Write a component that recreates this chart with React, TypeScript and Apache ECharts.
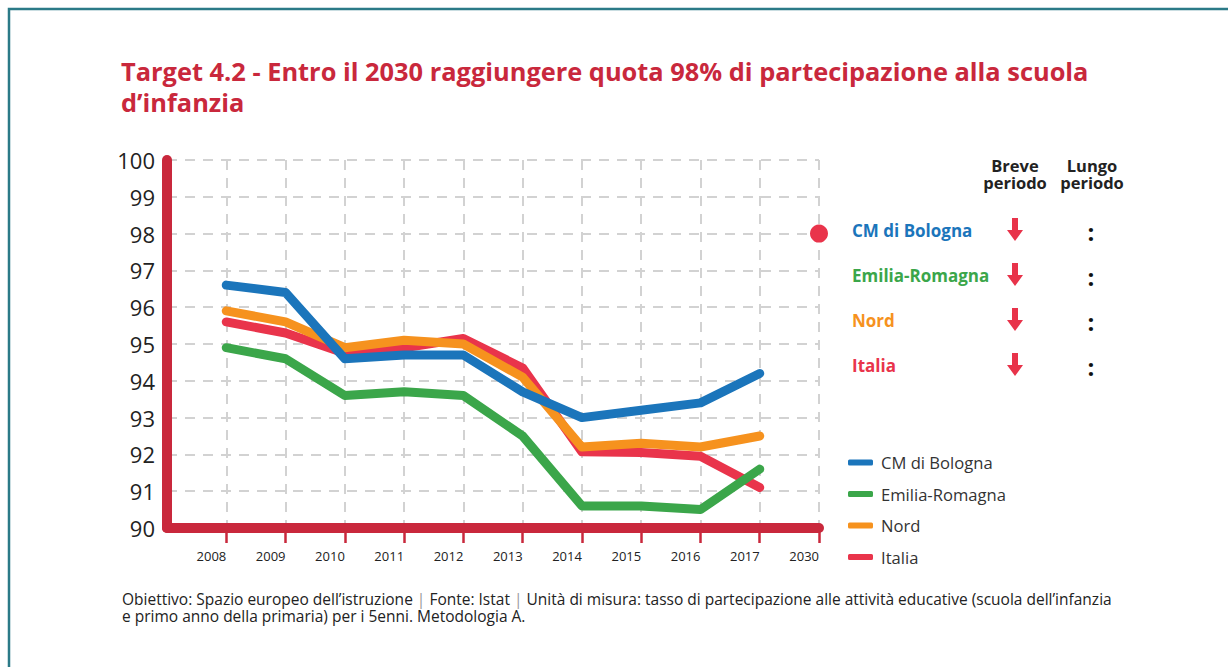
import React, { useEffect, useRef } from "react";
import * as echarts from "echarts";

const categories = ["", "2008", "2009", "2010", "2011", "2012", "2013", "2014", "2015", "2016", "2017", "2030"];
const years = ["2008", "2009", "2010", "2011", "2012", "2013", "2014", "2015", "2016", "2017"];
const bologna = [96.6, 96.4, 94.6, 94.7, 94.7, 93.7, 93.0, 93.2, 93.4, 94.2];
const emilia = [94.9, 94.6, 93.6, 93.7, 93.6, 92.5, 90.6, 90.6, 90.5, 91.6];
const nord = [95.9, 95.6, 94.9, 95.1, 95.0, 94.1, 92.2, 92.3, 92.2, 92.5];
const italia = [95.6, 95.3, 94.75, 94.9, 95.15, 94.35, 92.07, 92.05, 91.95, 91.1];
const target = [["2030", 98]];
const yTicks = { min: 90, max: 100, interval: 1 };

const seriesNames = ["CM di Bologna", "Emilia-Romagna", "Nord", "Italia"];
const seriesColors = ["#1b75bb", "#3ba64a", "#f6921e", "#e9344b"];
const seriesValues = [bologna, emilia, nord, italia];
const seriesZ = [5, 4, 3, 2];
const breveTrend = ["↓", "↓", "↓", "↓"];
const lungoTrend = [":", ":", ":", ":"];

const AXIS_RED = "#c9283c";

export default function App() {
  const ref = useRef<HTMLDivElement>(null);
  useEffect(() => {
    document.body.style.margin = "0";
    const chart = echarts.init(ref.current!, null, { renderer: "svg" });
    const font = "'Open Sans', 'Noto Sans', sans-serif";

    const lineSeries = seriesNames.map((name, i) => ({
      name,
      type: "line",
      data: years.map((y, j) => [y, seriesValues[i][j]]),
      symbol: "none",
      z: seriesZ[i],
      lineStyle: { color: seriesColors[i], width: 9, cap: "round", join: "round" },
      itemStyle: { color: seriesColors[i] },
    }));

    const rowYs = [230, 275, 320, 365];
    const rightTexts: any[] = [];
    seriesNames.forEach((name, i) => {
      rightTexts.push({
        type: "text",
        x: 852,
        y: rowYs[i],
        style: {
          text: name,
          fill: seriesColors[i],
          font: `bold 17px ${font}`,
          textVerticalAlign: "middle",
        },
      });
      rightTexts.push({
        type: "polygon",
        x: 1015,
        y: rowYs[i],
        shape: {
          points: [
            [-3, -12], [3, -12], [3, 0], [8, 0], [0, 11], [-8, 0], [-3, 0],
          ],
        },
        style: { fill: "#e8334a" },
        info: breveTrend[i],
      });
      rightTexts.push({
        type: "text",
        x: 1091,
        y: rowYs[i] + 1,
        style: {
          text: lungoTrend[i],
          fill: "#111",
          font: `bold 24px ${font}`,
          textAlign: "center",
          textVerticalAlign: "middle",
        },
      });
    });

    const option: any = {
      animation: false,
      backgroundColor: "#ffffff",
      textStyle: { fontFamily: font },
      title: {
        text: "Target 4.2 - Entro il 2030 raggiungere quota 98% di partecipazione alla scuola\nd’infanzia",
        left: 121,
        top: 55,
        padding: 0,
        textStyle: {
          color: AXIS_RED,
          fontSize: 25.4,
          fontWeight: "bold",
          lineHeight: 31,
          fontFamily: font,
        },
      },
      legend: {
        data: seriesNames,
        orient: "vertical",
        left: 848,
        top: 453,
        padding: 0,
        itemWidth: 25,
        itemHeight: 6,
        itemGap: 12.5,
        icon: "roundRect",
        textStyle: {
          fontSize: 16.6,
          color: "#333",
          lineHeight: 19,
          fontFamily: font,
          padding: [0, 0, 0, 3],
        },
      },
      grid: { left: 167, right: 409, top: 160, bottom: 139, containLabel: false },
      xAxis: {
        type: "category",
        data: categories,
        boundaryGap: false,
        axisLine: { show: true, lineStyle: { color: AXIS_RED, width: 10, cap: "round" } },
        axisTick: {
          show: true,
          length: 15,
          interval: (i: number) => i !== 0,
          lineStyle: { color: AXIS_RED, width: 2.5 },
        },
        axisLabel: {
          interval: 0,
          align: "right",
          margin: 21,
          fontSize: 13,
          color: "#222",
          fontFamily: font,
        },
        splitLine: {
          show: true,
          lineStyle: { color: "#d2d2d2", width: 2, type: [10, 8] },
        },
      },
      yAxis: {
        type: "value",
        min: yTicks.min,
        max: yTicks.max,
        interval: yTicks.interval,
        axisLine: { show: true, lineStyle: { color: AXIS_RED, width: 10, cap: "round" } },
        axisTick: { show: false },
        axisLabel: { fontSize: 22, color: "#222", margin: 12, fontFamily: font },
        splitLine: {
          show: true,
          lineStyle: { color: "#d2d2d2", width: 2, type: [10, 8] },
        },
      },
      series: [
        ...lineSeries,
        {
          name: "Target 2030",
          type: "scatter",
          data: target,
          symbol: "circle",
          symbolSize: 18,
          z: 10,
          itemStyle: { color: "#e9344b", opacity: 1 },
        },
      ],
      graphic: [
        {
          type: "rect",
          shape: { x: 9, y: 9, width: 1400, height: 800 },
          style: { fill: "none", stroke: "#2b7a87", lineWidth: 2.5 },
          silent: true,
        },
        {
          type: "text",
          x: 1015,
          y: 174,
          style: {
            text: "Breve\nperiodo",
            fill: "#222",
            font: `bold 16.5px ${font}`,
            lineHeight: 17,
            textAlign: "center",
            textVerticalAlign: "middle",
          },
        },
        {
          type: "text",
          x: 1092,
          y: 174,
          style: {
            text: "Lungo\nperiodo",
            fill: "#222",
            font: `bold 16.5px ${font}`,
            lineHeight: 17,
            textAlign: "center",
            textVerticalAlign: "middle",
          },
        },
        ...rightTexts,
        {
          type: "text",
          left: 122,
          top: 591,
          style: {
            text:
              "{t|Obiettivo: Spazio europeo dell’istruzione }{s||}{t| Fonte: Istat }{s||}{t| Unità di misura: tasso di partecipazione alle attività educative (scuola dell’infanzia}\n{t|e primo anno della primaria) per i 5enni. Metodologia A.}",
            rich: {
              t: { fontSize: 15.5, fill: "#222", fontFamily: font, lineHeight: 17 },
              s: { fontSize: 15.5, fill: "#999", fontFamily: font, lineHeight: 17 },
            },
          },
        },
      ],
    };
    chart.setOption(option);
    return () => chart.dispose();
  }, []);
  return <div ref={ref} style={{ width: 1228, height: 667 }} />;
}
